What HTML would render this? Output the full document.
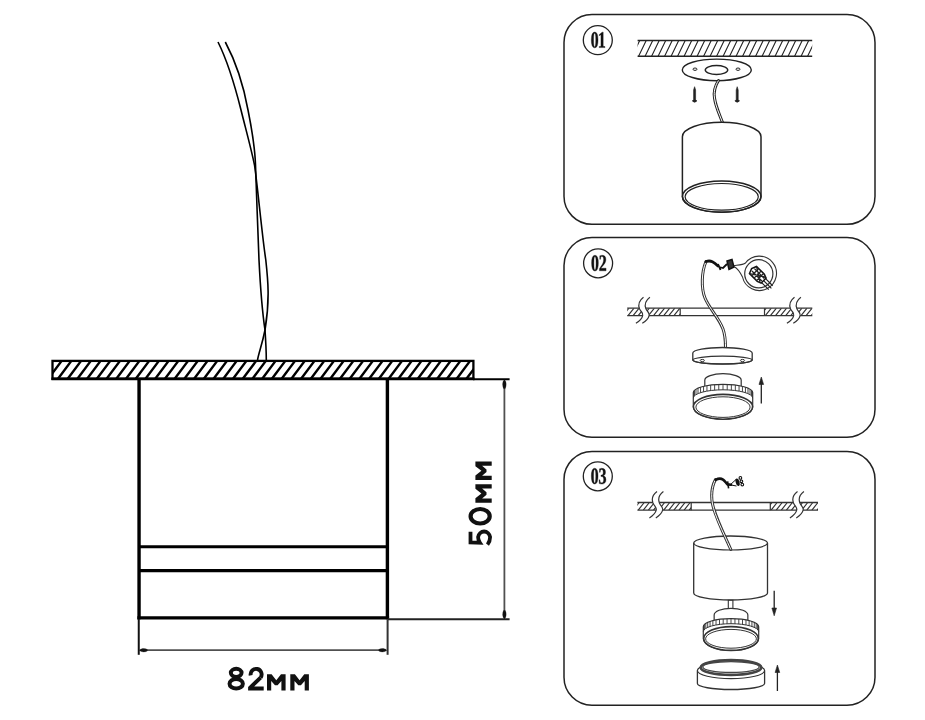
<!DOCTYPE html><html><head><meta charset="utf-8"><style>html,body{margin:0;padding:0;background:#fff;width:925px;height:720px;overflow:hidden}svg{display:block}text{font-family:"Liberation Sans",sans-serif}</style></head><body><svg width="925" height="720" viewBox="0 0 925 720"><rect width="925" height="720" fill="#fff"/><clipPath id="c1"><rect x="52.5" y="360.9" width="420.9" height="17.900000000000034"/></clipPath>
<path clip-path="url(#c1)" d="M28.83 378.80L42.23 360.90M38.55 378.80L51.95 360.90M48.27 378.80L61.67 360.90M58.00 378.80L71.40 360.90M67.72 378.80L81.12 360.90M77.45 378.80L90.85 360.90M87.17 378.80L100.58 360.90M96.90 378.80L110.30 360.90M106.62 378.80L120.03 360.90M116.35 378.80L129.75 360.90M126.08 378.80L139.47 360.90M135.80 378.80L149.20 360.90M145.52 378.80L158.92 360.90M155.25 378.80L168.65 360.90M164.97 378.80L178.38 360.90M174.70 378.80L188.10 360.90M184.43 378.80L197.83 360.90M194.15 378.80L207.55 360.90M203.88 378.80L217.28 360.90M213.60 378.80L227.00 360.90M223.32 378.80L236.72 360.90M233.05 378.80L246.45 360.90M242.78 378.80L256.18 360.90M252.50 378.80L265.90 360.90M262.23 378.80L275.62 360.90M271.95 378.80L285.35 360.90M281.67 378.80L295.07 360.90M291.40 378.80L304.80 360.90M301.12 378.80L314.52 360.90M310.85 378.80L324.25 360.90M320.57 378.80L333.97 360.90M330.30 378.80L343.70 360.90M340.02 378.80L353.42 360.90M349.75 378.80L363.15 360.90M359.47 378.80L372.87 360.90M369.20 378.80L382.60 360.90M378.93 378.80L392.32 360.90M388.65 378.80L402.05 360.90M398.38 378.80L411.77 360.90M408.10 378.80L421.50 360.90M417.82 378.80L431.22 360.90M427.55 378.80L440.95 360.90M437.27 378.80L450.67 360.90M447.00 378.80L460.40 360.90M456.72 378.80L470.12 360.90M466.45 378.80L479.85 360.90M476.18 378.80L489.57 360.90" stroke="#000" stroke-width="2.4" fill="none"/>
<rect x="52.5" y="360.9" width="420.9" height="17.9" fill="none" stroke="#000" stroke-width="2.3"/>
<line x1="51.4" y1="378.8" x2="474.5" y2="378.8" stroke="#000" stroke-width="2.8"/>
<line x1="139.05" y1="379" x2="139.05" y2="619.3" stroke="#000" stroke-width="3.4"/>
<line x1="387.4" y1="379" x2="387.4" y2="619.3" stroke="#000" stroke-width="3.4"/>
<line x1="139" y1="546.75" x2="387.4" y2="546.75" stroke="#000" stroke-width="3.2"/>
<line x1="139" y1="570.6" x2="387.4" y2="570.6" stroke="#000" stroke-width="3.2"/>
<line x1="137.4" y1="617.8" x2="389.1" y2="617.8" stroke="#000" stroke-width="3.2"/>
<line x1="504.4" y1="381" x2="504.4" y2="617.5" stroke="#505050" stroke-width="1.8"/>
<line x1="140.5" y1="650.2" x2="386" y2="650.2" stroke="#505050" stroke-width="1.8"/>
<line x1="138.75" y1="619" x2="138.75" y2="654.8" stroke="#111" stroke-width="2.0"/>
<line x1="387.6" y1="619" x2="387.6" y2="654.8" stroke="#333" stroke-width="2.0"/>
<line x1="388" y1="619.3" x2="509.6" y2="619.3" stroke="#222" stroke-width="2.1"/>
<line x1="473" y1="379.2" x2="509.6" y2="379.2" stroke="#000" stroke-width="2.0"/>
<path d="M504.4 379.5 C502.2 381.75 502.2 385.8 503.59999999999997 388.5 L505.2 388.5 C506.59999999999997 385.8 506.59999999999997 381.75 504.4 379.5 Z" stroke="#111" stroke-width="0.3" fill="#111" />
<path d="M504.4 619 C502.2 616.875 502.2 613.05 503.59999999999997 610.5 L505.2 610.5 C506.59999999999997 613.05 506.59999999999997 616.875 504.4 619 Z" stroke="#111" stroke-width="0.3" fill="#111" />
<path d="M139.3 650.2 C141.3 648.1 144.9 648.1 147.3 649.4000000000001 L147.3 651.0 C144.9 652.3000000000001 141.3 652.3000000000001 139.3 650.2 Z" stroke="#111" stroke-width="0.3" fill="#111" />
<path d="M386.8 650.2 C384.8 648.1 381.2 648.1 378.8 649.4000000000001 L378.8 651.0 C381.2 652.3000000000001 384.8 652.3000000000001 386.8 650.2 Z" stroke="#111" stroke-width="0.3" fill="#111" />
<g transform="translate(0,690.5)"><ellipse cx="236.2" cy="-17.65" rx="5.35" ry="4.05" fill="none" stroke="#111" stroke-width="4.0"/><ellipse cx="236.2" cy="-6.75" rx="6.65" ry="4.85" fill="none" stroke="#111" stroke-width="4.0"/><path d="M250.68 -15.15 A5.5 5.5 0 1 1 260.6 -12.95" fill="none" stroke="#111" stroke-width="3.9"/><path d="M259.23 -14.33L261.97 -11.57L254.19 -3.90L263.70 -3.90L263.70 0.00L248.10 0.00L248.10 -3.50Z" fill="#111"/><path d="M267.00 0.00L267.00 -16.30L271.60 -16.30L276.30 -10.30L281.00 -16.30L285.60 -16.30L285.60 0.00L281.40 0.00L281.40 -9.60L277.60 -5.20L275.00 -5.20L271.20 -9.60L271.20 0.00Z" fill="#111"/><path d="M290.30 0.00L290.30 -16.30L294.90 -16.30L299.60 -10.30L304.30 -16.30L308.90 -16.30L308.90 0.00L304.70 0.00L304.70 -9.60L300.90 -5.20L298.30 -5.20L294.50 -9.60L294.50 0.00Z" fill="#111"/></g>
<g transform="translate(491.7,545.8) rotate(-90)"><path d="M14 -21.2 L3.4 -21.2 L3.0 -11.8 C4.8 -13 6.8 -13.6 8.8 -13.6 A6.7 6.1 0 0 1 8.8 -1.6 C6 -1.6 3.4 -2.4 1.2 -4.2" fill="none" stroke="#111" stroke-width="3.8" stroke-linejoin="miter"/><ellipse cx="29.549999999999997" cy="-11.55" rx="7.25" ry="9.55" fill="none" stroke="#111" stroke-width="4.2"/><path d="M43.10 0.00L43.10 -16.30L47.65 -16.30L52.30 -10.30L56.95 -16.30L61.50 -16.30L61.50 0.00L57.35 0.00L57.35 -9.60L53.59 -5.20L51.01 -5.20L47.25 -9.60L47.25 0.00Z" fill="#111"/><path d="M65.80 0.00L65.80 -16.30L70.35 -16.30L75.00 -10.30L79.65 -16.30L84.20 -16.30L84.20 0.00L80.05 0.00L80.05 -9.60L76.29 -5.20L73.71 -5.20L69.95 -9.60L69.95 0.00Z" fill="#111"/></g>
<path d="M218 42 C228 62 236 90 241 110 C246 130 251 148 254.5 165 C257.5 185 262 235 265.8 260 C268 280 270 300 265 330 C262 345 259 352 257.5 360" stroke="#000" stroke-width="1.6" fill="none" />
<path d="M225.3 42 C236 62 244 88 248 110 C252 130 255 148 255.5 165 C256.5 190 258 240 259 260 C260 280 262 310 265 330 C266 345 266.3 352 266.3 360" stroke="#000" stroke-width="1.6" fill="none" />
<rect x="564" y="14.58" width="311" height="209.76" rx="28" ry="28" fill="none" stroke="#222" stroke-width="1.5"/>
<rect x="564" y="237.47" width="311" height="199.78" rx="28" ry="28" fill="none" stroke="#222" stroke-width="1.5"/>
<rect x="564" y="451.4" width="311" height="253.80" rx="28" ry="28" fill="none" stroke="#222" stroke-width="1.5"/>
<circle cx="597.8" cy="40.1" r="14.5" fill="none" stroke="#222" stroke-width="1.3"/>
<path transform="translate(590.694,47.6) scale(0.007770,-0.011426)" d="M946 676Q946 -20 506 -20Q294 -20 186.0 158.0Q78 336 78 676Q78 1009 186.0 1185.5Q294 1362 514 1362Q726 1362 836.0 1187.5Q946 1013 946 676ZM653 676Q653 988 618.0 1124.5Q583 1261 508 1261Q434 1261 402.5 1129.0Q371 997 371 676Q371 350 403.0 215.0Q435 80 508 80Q582 80 617.5 218.5Q653 357 653 676Z" fill="#111" stroke="#111" stroke-width="0.35" vector-effect="non-scaling-stroke"/>
<path transform="translate(597.870,47.6) scale(0.007770,-0.011426)" d="M685 110 918 86V0H164V86L396 110V1121L165 1045V1130L543 1352H685Z" fill="#111" stroke="#111" stroke-width="0.35" vector-effect="non-scaling-stroke"/>
<circle cx="598.1" cy="263.3" r="14.5" fill="none" stroke="#222" stroke-width="1.3"/>
<path transform="translate(590.994,270.8) scale(0.007770,-0.011426)" d="M946 676Q946 -20 506 -20Q294 -20 186.0 158.0Q78 336 78 676Q78 1009 186.0 1185.5Q294 1362 514 1362Q726 1362 836.0 1187.5Q946 1013 946 676ZM653 676Q653 988 618.0 1124.5Q583 1261 508 1261Q434 1261 402.5 1129.0Q371 997 371 676Q371 350 403.0 215.0Q435 80 508 80Q582 80 617.5 218.5Q653 357 653 676Z" fill="#111" stroke="#111" stroke-width="0.35" vector-effect="non-scaling-stroke"/>
<path transform="translate(598.776,270.8) scale(0.007770,-0.011426)" d="M936 0H86V189Q172 281 245 354Q405 512 479.0 602.5Q553 693 587.5 790.0Q622 887 622 1011Q622 1120 569.0 1187.0Q516 1254 428 1254Q366 1254 329.0 1241.0Q292 1228 261 1202L218 1008H131V1313Q211 1331 287.5 1343.5Q364 1356 454 1356Q675 1356 792.5 1265.0Q910 1174 910 1006Q910 901 875.0 815.5Q840 730 764.5 649.0Q689 568 464 385Q378 315 278 226H936Z" fill="#111" stroke="#111" stroke-width="0.35" vector-effect="non-scaling-stroke"/>
<circle cx="597.8" cy="476.3" r="14.5" fill="none" stroke="#222" stroke-width="1.3"/>
<path transform="translate(590.694,483.8) scale(0.007770,-0.011426)" d="M946 676Q946 -20 506 -20Q294 -20 186.0 158.0Q78 336 78 676Q78 1009 186.0 1185.5Q294 1362 514 1362Q726 1362 836.0 1187.5Q946 1013 946 676ZM653 676Q653 988 618.0 1124.5Q583 1261 508 1261Q434 1261 402.5 1129.0Q371 997 371 676Q371 350 403.0 215.0Q435 80 508 80Q582 80 617.5 218.5Q653 357 653 676Z" fill="#111" stroke="#111" stroke-width="0.35" vector-effect="non-scaling-stroke"/>
<path transform="translate(598.546,483.8) scale(0.007770,-0.011426)" d="M954 365Q954 182 823.0 81.0Q692 -20 459 -20Q273 -20 89 20L77 345H169L221 130Q308 81 403 81Q524 81 592.0 158.5Q660 236 660 375Q660 496 605.5 560.5Q551 625 429 633L313 640V761L425 769Q514 775 556.5 834.5Q599 894 599 1014Q599 1126 548.5 1190.0Q498 1254 405 1254Q351 1254 316.5 1237.5Q282 1221 251 1202L208 1008H121V1313Q223 1339 297.0 1347.5Q371 1356 443 1356Q894 1356 894 1026Q894 890 822.0 806.0Q750 722 616 702Q954 661 954 365Z" fill="#111" stroke="#111" stroke-width="0.35" vector-effect="non-scaling-stroke"/>
<clipPath id="c2"><rect x="637.6" y="40.5" width="174.60000000000002" height="15.799999999999997"/></clipPath>
<path clip-path="url(#c2)" d="M619.10 56.30L626.70 40.50M625.60 56.30L633.20 40.50M632.10 56.30L639.70 40.50M638.60 56.30L646.20 40.50M645.10 56.30L652.70 40.50M651.60 56.30L659.20 40.50M658.10 56.30L665.70 40.50M664.60 56.30L672.20 40.50M671.10 56.30L678.70 40.50M677.60 56.30L685.20 40.50M684.10 56.30L691.70 40.50M690.60 56.30L698.20 40.50M697.10 56.30L704.70 40.50M703.60 56.30L711.20 40.50M710.10 56.30L717.70 40.50M716.60 56.30L724.20 40.50M723.10 56.30L730.70 40.50M729.60 56.30L737.20 40.50M736.10 56.30L743.70 40.50M742.60 56.30L750.20 40.50M749.10 56.30L756.70 40.50M755.60 56.30L763.20 40.50M762.10 56.30L769.70 40.50M768.60 56.30L776.20 40.50M775.10 56.30L782.70 40.50M781.60 56.30L789.20 40.50M788.10 56.30L795.70 40.50M794.60 56.30L802.20 40.50M801.10 56.30L808.70 40.50M807.60 56.30L815.20 40.50M814.10 56.30L821.70 40.50" stroke="#222" stroke-width="1.1" fill="none"/>
<line x1="637.6" y1="40.5" x2="812.2" y2="40.5" stroke="#222" stroke-width="1.4"/>
<line x1="637.6" y1="56.3" x2="812.2" y2="56.3" stroke="#222" stroke-width="1.4"/>
<ellipse cx="716.8" cy="69.9" rx="34.5" ry="10.8" stroke="#222" stroke-width="1.4" fill="#fff"/>
<ellipse cx="716.5" cy="70" rx="11.25" ry="4.45" stroke="#222" stroke-width="1.4" fill="none"/>
<ellipse cx="695" cy="69.2" rx="2" ry="1.2" stroke="#222" stroke-width="1" fill="none"/>
<ellipse cx="738" cy="69.2" rx="2" ry="1.2" stroke="#222" stroke-width="1" fill="none"/>
<path d="M694.6 86.7 L693.6 90 L693.6 99.5 L692.3000000000001 101 Q694.6 103.5 696.9 101 L695.6 99.5 L695.6 90 Z" stroke="#222" stroke-width="0.6" fill="#222" />
<path d="M737.2 86.7 L736.2 90 L736.2 99.5 L734.9000000000001 101 Q737.2 103.5 739.5 101 L738.2 99.5 L738.2 90 Z" stroke="#222" stroke-width="0.6" fill="#222" />
<path d="M718.5 80.5 C715 86 713.5 92 714.5 98 C715.5 106 719 113 722.5 122.5" stroke="#222" stroke-width="3.0" fill="none" stroke-linecap="round"/>
<path d="M718.5 80.5 C715 86 713.5 92 714.5 98 C715.5 106 719 113 722.5 122.5" stroke="#fff" stroke-width="1.0" fill="none" />
<path d="M682.4 136.7 A39.3 14.5 0 0 1 761 136.7 L761 196.6 A39.3 15.6 0 0 1 682.4 196.6 Z" stroke="#222" stroke-width="1.5" fill="#fff" />
<ellipse cx="721.7" cy="196.6" rx="39.3" ry="15.6" stroke="#222" stroke-width="1.5" fill="none"/>
<ellipse cx="721.7" cy="196.8" rx="36.6" ry="13.3" stroke="#222" stroke-width="1.2" fill="none"/>
<clipPath id="c3"><rect x="627.2" y="308.2" width="53.0" height="7.400000000000034"/></clipPath>
<path clip-path="url(#c3)" d="M612.70 315.60L618.70 308.20M617.80 315.60L623.80 308.20M622.90 315.60L628.90 308.20M628.00 315.60L634.00 308.20M633.10 315.60L639.10 308.20M638.20 315.60L644.20 308.20M643.30 315.60L649.30 308.20M648.40 315.60L654.40 308.20M653.50 315.60L659.50 308.20M658.60 315.60L664.60 308.20M663.70 315.60L669.70 308.20M668.80 315.60L674.80 308.20M673.90 315.60L679.90 308.20M679.00 315.60L685.00 308.20M684.10 315.60L690.10 308.20" stroke="#333" stroke-width="1.2" fill="none"/>
<clipPath id="c4"><rect x="764.5" y="308.2" width="47.799999999999955" height="7.400000000000034"/></clipPath>
<path clip-path="url(#c4)" d="M750.00 315.60L756.00 308.20M755.10 315.60L761.10 308.20M760.20 315.60L766.20 308.20M765.30 315.60L771.30 308.20M770.40 315.60L776.40 308.20M775.50 315.60L781.50 308.20M780.60 315.60L786.60 308.20M785.70 315.60L791.70 308.20M790.80 315.60L796.80 308.20M795.90 315.60L801.90 308.20M801.00 315.60L807.00 308.20M806.10 315.60L812.10 308.20M811.20 315.60L817.20 308.20M816.30 315.60L822.30 308.20" stroke="#333" stroke-width="1.2" fill="none"/>
<line x1="627.2" y1="308.2" x2="812.3" y2="308.2" stroke="#333" stroke-width="1.3"/>
<line x1="627.2" y1="315.6" x2="812.3" y2="315.6" stroke="#333" stroke-width="1.3"/>
<line x1="680.2" y1="308.2" x2="680.2" y2="315.6" stroke="#333" stroke-width="1.2"/>
<line x1="764.5" y1="308.2" x2="764.5" y2="315.6" stroke="#333" stroke-width="1.2"/>
<path d="M643.5 297.2 C639.5 300.2 638.0 304.7 639.5 308.7 C641.0 312.2 643.5 312.6 642.7 315.6 C642.0 318.6 639.5 321.1 635.9 323.3L642.3 323.3 C645.9 321.1 648.4 318.6 649.1 315.6 C649.9 312.6 647.4 312.2 645.9 308.7 C644.4 304.7 645.9 300.2 649.9 297.2 Z" fill="#fff" stroke="none"/>
<path d="M643.5 297.2 C639.5 300.2 638.0 304.7 639.5 308.7 C641.0 312.2 643.5 312.6 642.7 315.6 C642.0 318.6 639.5 321.1 635.9 323.3" stroke="#333" stroke-width="1.2" fill="none" />
<path d="M649.9 297.2 C645.9 300.2 644.4 304.7 645.9 308.7 C647.4 312.2 649.9 312.6 649.1 315.6 C648.4 318.6 645.9 321.1 642.3 323.3" stroke="#333" stroke-width="1.2" fill="none" />
<path d="M794.5 297.2 C790.5 300.2 789.0 304.7 790.5 308.7 C792.0 312.2 794.5 312.6 793.7 315.6 C793.0 318.6 790.5 321.1 786.9 323.3L793.3 323.3 C796.9 321.1 799.4 318.6 800.1 315.6 C800.9 312.6 798.4 312.2 796.9 308.7 C795.4 304.7 796.9 300.2 800.9 297.2 Z" fill="#fff" stroke="none"/>
<path d="M794.5 297.2 C790.5 300.2 789.0 304.7 790.5 308.7 C792.0 312.2 794.5 312.6 793.7 315.6 C793.0 318.6 790.5 321.1 786.9 323.3" stroke="#333" stroke-width="1.2" fill="none" />
<path d="M800.9 297.2 C796.9 300.2 795.4 304.7 796.9 308.7 C798.4 312.2 800.9 312.6 800.1 315.6 C799.4 318.6 796.9 321.1 793.3 323.3" stroke="#333" stroke-width="1.2" fill="none" />
<path d="M706 261.5 C701.5 272 701 288 705 298 C709 308 719 318 723 329 C725.5 336 725.5 342 725.5 348" stroke="#333" stroke-width="3.0" fill="none" stroke-linecap="round"/>
<path d="M706 261.5 C701.5 272 701 288 705 298 C709 308 719 318 723 329 C725.5 336 725.5 342 725.5 348" stroke="#fff" stroke-width="1.0" fill="none" />
<path d="M706 261.5 C711 260 714 262 718 266" stroke="#111" stroke-width="2.8" fill="none" stroke-linecap="round"/>
<path d="M718 264 L720.5 270 M719 267 L723 268 L727 264" stroke="#111" stroke-width="1.8" fill="none" />
<path d="M727 261 L732 259.5 L734 267 L729 269.5 Z" stroke="#111" stroke-width="1.5" fill="#333" />
<path d="M734 265.5 C738 265 743 265 745.5 263 A17.2 17.2 0 1 1 742.5 277 C740 272 737 268 734 266.5" stroke="#333" stroke-width="1.1" fill="none" />
<ellipse cx="758.8" cy="273.8" rx="14.1" ry="14.1" stroke="#333" stroke-width="1.2" fill="none"/>
<g transform="translate(761.5,278.5) rotate(45)">
<path d="M-12 -5 L-1 -5 L3 -3.5 L3 3.5 L-1 5 L-12 5 L-14 0 Z" stroke="#111" stroke-width="1.5" fill="#fff" />
<path d="M-12 -2 L2 -2 M-12 1.5 L2 1.5 M-9 -5 L-9 5 M-5.5 -5 L-5.5 5 M-2 -5 L-2 5 M-12 -5 L2 4 M-12 5 L2 -4" stroke="#222" stroke-width="1.3" fill="none" />
<path d="M3 -2.8 L13 -2.8 M3 0 L14 0 M3 2.8 L13 2.8" stroke="#222" stroke-width="1.2" fill="none" />
</g>
<path d="M692.8 353 A29.7 5.5 0 0 1 752.2 353 L752.2 360 A29.7 4 0 0 1 692.8 360 Z" stroke="#333" stroke-width="1.3" fill="#fff" />
<ellipse cx="722.5" cy="360.1" rx="29.7" ry="3.9" stroke="#333" stroke-width="1.2" fill="none"/>
<ellipse cx="702.3" cy="360.5" rx="2.1" ry="1.1" stroke="#333" stroke-width="1" fill="none"/>
<ellipse cx="742.5" cy="360.5" rx="2.1" ry="1.1" stroke="#333" stroke-width="1" fill="none"/>
<path d="M704.8 392.6 L704.8 380.1 A18.2 6.400000000000034 0 0 1 741.2 380.1 L741.2 392.6 Z" stroke="#333" stroke-width="1.2" fill="#fff" />
<path d="M693.3 392.6 A29.7 8.3 0 0 1 752.7 392.6 L752.7 406.8 A29.7 12.4 0 0 1 693.3 406.8 Z" stroke="#333" stroke-width="1.2" fill="#fff" />
<path d="M693.3 398.1 A29.7 8.3 0 0 1 752.7 398.1" stroke="#333" stroke-width="1.0" fill="none" />
<path d="M693.60 391.42L693.60 396.92M694.50 390.26L694.50 395.76M695.98 389.15L695.98 394.65M698.01 388.11L698.01 393.61M700.55 387.16L700.55 392.66M703.55 386.33L703.55 391.83M706.94 385.62L706.94 391.12M710.66 385.05L710.66 390.55M714.63 384.64L714.63 390.14M718.77 384.38L718.77 389.88M723.00 384.30L723.00 389.80M727.23 384.38L727.23 389.88M731.37 384.64L731.37 390.14M735.34 385.05L735.34 390.55M739.06 385.62L739.06 391.12M742.45 386.33L742.45 391.83M745.45 387.16L745.45 392.66M747.99 388.11L747.99 393.61M750.02 389.15L750.02 394.65M751.50 390.26L751.50 395.76M752.40 391.42L752.40 396.92" stroke="#333" stroke-width="0.9" fill="none" />
<ellipse cx="723" cy="406.8" rx="29.6" ry="12.4" stroke="#333" stroke-width="1.6" fill="#fff"/>
<ellipse cx="723" cy="407.1" rx="27.1" ry="10.3" stroke="#333" stroke-width="1.0" fill="none"/>
<line x1="761.3" y1="384" x2="761.3" y2="403.6" stroke="#222" stroke-width="1.3"/>
<path d="M761.3 377 L759 384.5 L763.6 384.5 Z" stroke="#222" stroke-width="0.6" fill="#222" />
<clipPath id="c5"><rect x="637.4" y="502.5" width="53.80000000000007" height="7.699999999999989"/></clipPath>
<path clip-path="url(#c5)" d="M622.90 510.20L628.90 502.50M628.00 510.20L634.00 502.50M633.10 510.20L639.10 502.50M638.20 510.20L644.20 502.50M643.30 510.20L649.30 502.50M648.40 510.20L654.40 502.50M653.50 510.20L659.50 502.50M658.60 510.20L664.60 502.50M663.70 510.20L669.70 502.50M668.80 510.20L674.80 502.50M673.90 510.20L679.90 502.50M679.00 510.20L685.00 502.50M684.10 510.20L690.10 502.50M689.20 510.20L695.20 502.50M694.30 510.20L700.30 502.50" stroke="#333" stroke-width="1.2" fill="none"/>
<clipPath id="c6"><rect x="770.3" y="502.5" width="47.700000000000045" height="7.699999999999989"/></clipPath>
<path clip-path="url(#c6)" d="M755.80 510.20L761.80 502.50M760.90 510.20L766.90 502.50M766.00 510.20L772.00 502.50M771.10 510.20L777.10 502.50M776.20 510.20L782.20 502.50M781.30 510.20L787.30 502.50M786.40 510.20L792.40 502.50M791.50 510.20L797.50 502.50M796.60 510.20L802.60 502.50M801.70 510.20L807.70 502.50M806.80 510.20L812.80 502.50M811.90 510.20L817.90 502.50M817.00 510.20L823.00 502.50M822.10 510.20L828.10 502.50" stroke="#333" stroke-width="1.2" fill="none"/>
<line x1="637.4" y1="502.5" x2="818" y2="502.5" stroke="#333" stroke-width="1.3"/>
<line x1="637.4" y1="510.2" x2="818" y2="510.2" stroke="#333" stroke-width="1.3"/>
<line x1="691.2" y1="502.5" x2="691.2" y2="510.2" stroke="#333" stroke-width="1.2"/>
<line x1="770.3" y1="502.5" x2="770.3" y2="510.2" stroke="#333" stroke-width="1.2"/>
<path d="M657 491.5 C653 494.5 651.5 499.0 653 503.0 C654.5 506.5 657 507.2 656.2 510.2 C655.5 513.2 653 515.7 649.4 517.9L655.8 517.9 C659.4 515.7 661.9 513.2 662.6 510.2 C663.4 507.2 660.9 506.5 659.4 503.0 C657.9 499.0 659.4 494.5 663.4 491.5 Z" fill="#fff" stroke="none"/>
<path d="M657 491.5 C653 494.5 651.5 499.0 653 503.0 C654.5 506.5 657 507.2 656.2 510.2 C655.5 513.2 653 515.7 649.4 517.9" stroke="#333" stroke-width="1.2" fill="none" />
<path d="M663.4 491.5 C659.4 494.5 657.9 499.0 659.4 503.0 C660.9 506.5 663.4 507.2 662.6 510.2 C661.9 513.2 659.4 515.7 655.8 517.9" stroke="#333" stroke-width="1.2" fill="none" />
<path d="M797.5 491.5 C793.5 494.5 792.0 499.0 793.5 503.0 C795.0 506.5 797.5 507.2 796.7 510.2 C796.0 513.2 793.5 515.7 789.9 517.9L796.3 517.9 C799.9 515.7 802.4 513.2 803.1 510.2 C803.9 507.2 801.4 506.5 799.9 503.0 C798.4 499.0 799.9 494.5 803.9 491.5 Z" fill="#fff" stroke="none"/>
<path d="M797.5 491.5 C793.5 494.5 792.0 499.0 793.5 503.0 C795.0 506.5 797.5 507.2 796.7 510.2 C796.0 513.2 793.5 515.7 789.9 517.9" stroke="#333" stroke-width="1.2" fill="none" />
<path d="M803.9 491.5 C799.9 494.5 798.4 499.0 799.9 503.0 C801.4 506.5 803.9 507.2 803.1 510.2 C802.4 513.2 799.9 515.7 796.3 517.9" stroke="#333" stroke-width="1.2" fill="none" />
<path d="M693.7 543 A36.9 7 0 0 1 767.5 543 L767.5 593 A36.9 7 0 0 1 693.7 593 Z" stroke="#333" stroke-width="1.3" fill="#fff" />
<path d="M693.7 543 A36.9 7 0 0 0 767.5 543" stroke="#333" stroke-width="1.2" fill="none" />
<path d="M715.5 479.5 C711.5 487 711 496 712.5 504 C715 516 722 530 730.8 549.5" stroke="#333" stroke-width="3.0" fill="none" stroke-linecap="round"/>
<path d="M715.5 479.5 C711.5 487 711 496 712.5 504 C715 516 722 530 730.8 549.5" stroke="#fff" stroke-width="1.0" fill="none" />
<path d="M715.7 479.8 C718 478.6 721 478.3 723 479.6 C725 481 726 483 727.5 484.4 L731 484.8" stroke="#111" stroke-width="2.6" fill="none" stroke-linecap="round"/>
<path d="M727.6 481.3 L728.6 488.3" stroke="#111" stroke-width="1.6" fill="none" />
<path d="M730.5 484.6 L736 479.5 M731 485 L736.5 486" stroke="#111" stroke-width="1.0" fill="none" />
<ellipse cx="737.6" cy="482.2" rx="1.9" ry="3.9" fill="#111" transform="rotate(-15 737.6 482.2)"/>
<circle cx="740.4" cy="477.9" r="1.35" fill="#fff" stroke="#111" stroke-width="1.1"/>
<circle cx="741.4" cy="481.3" r="1.35" fill="#fff" stroke="#111" stroke-width="1.1"/>
<circle cx="742.3" cy="484.6" r="1.35" fill="#fff" stroke="#111" stroke-width="1.1"/>
<rect x="728.3" y="600.3" width="4.6" height="8.5" fill="#fff" stroke="#333" stroke-width="1.1"/>
<path d="M714.15 626.7 L714.15 615 A16.85 6.7000000000000455 0 0 1 747.85 615 L747.85 626.7 Z" stroke="#333" stroke-width="1.2" fill="#fff" />
<path d="M703.3 626.7 A27.7 8 0 0 1 758.7 626.7 L758.7 638.5 A27.7 11.9 0 0 1 703.3 638.5 Z" stroke="#333" stroke-width="1.2" fill="#fff" />
<path d="M703.3 631.7 A27.7 8 0 0 1 758.7 631.7" stroke="#333" stroke-width="1.0" fill="none" />
<path d="M703.58 625.56L703.58 630.56M704.42 624.45L704.42 629.45M705.80 623.38L705.80 628.38M707.70 622.37L707.70 627.37M710.07 621.46L710.07 626.46M712.86 620.65L712.86 625.65M716.02 619.97L716.02 624.97M719.49 619.42L719.49 624.42M723.20 619.02L723.20 624.02M727.06 618.78L727.06 623.78M731.00 618.70L731.00 623.70M734.94 618.78L734.94 623.78M738.80 619.02L738.80 624.02M742.51 619.42L742.51 624.42M745.98 619.97L745.98 624.97M749.14 620.65L749.14 625.65M751.93 621.46L751.93 626.46M754.30 622.37L754.30 627.37M756.20 623.38L756.20 628.38M757.58 624.45L757.58 629.45M758.42 625.56L758.42 630.56" stroke="#333" stroke-width="0.9" fill="none" />
<ellipse cx="731" cy="638.5" rx="27.3" ry="11.9" stroke="#333" stroke-width="1.6" fill="#fff"/>
<ellipse cx="731" cy="638.8" rx="25.4" ry="9.4" stroke="#333" stroke-width="1.0" fill="none"/>
<line x1="774.2" y1="590.8" x2="774.2" y2="609" stroke="#222" stroke-width="1.3"/>
<path d="M774.2 615.8 L771.9 608 L776.5 608 Z" stroke="#222" stroke-width="0.6" fill="#222" />
<path d="M697.4 670.5 A33.6 8 0 0 1 764.6 670.5 L764.6 683.5 A33.6 6 0 0 1 697.4 683.5 Z" stroke="#333" stroke-width="1.3" fill="#fff" />
<path d="M697.4 670.5 A33.6 8.1 0 0 0 764.6 670.5" stroke="#333" stroke-width="1.1" fill="none" />
<ellipse cx="731" cy="667.5" rx="30.3" ry="7.4" stroke="#444" stroke-width="2.6" fill="#fff"/>
<ellipse cx="731" cy="667" rx="28.2" ry="5.4" stroke="#444" stroke-width="1.3" fill="none"/>
<line x1="777.4" y1="672" x2="777.4" y2="691" stroke="#222" stroke-width="1.3"/>
<path d="M777.4 665 L775.1 672.5 L779.7 672.5 Z" stroke="#222" stroke-width="0.6" fill="#222" /></svg></body></html>
